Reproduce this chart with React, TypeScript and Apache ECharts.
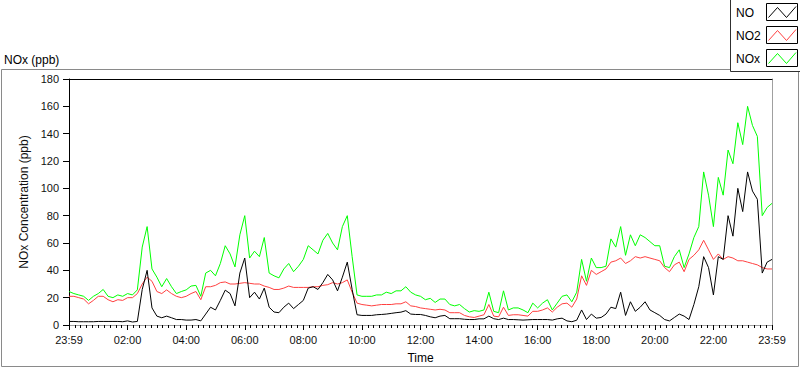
import React, { useEffect, useRef } from 'react';
import * as echarts from 'echarts';

// sampling step of the series (minutes from the 23:59 start)
const STEP_MINUTES = 10;

const xTickLabels = ['23:59', '02:00', '04:00', '06:00', '08:00', '10:00', '12:00', '14:00', '16:00', '18:00', '20:00', '22:00', '23:59'];

const seriesNames = ['NO', 'NO2', 'NOx'];

const noValues = [
  2.6, 2.6, 2.4, 2.4, 2.4, 2.4, 2.6, 2.6, 2.6, 2.6,
  2.6, 2.4, 3, 2.2, 2.6, 26, 40, 12.5, 6.5, 5.3,
  6.5, 5.3, 4, 4, 3.6, 3.6, 4, 3, 8, 13,
  11, 18, 25.5, 23, 14, 38, 49, 20, 24, 19,
  27, 13, 9.5, 9, 13, 16, 12, 15, 18, 27,
  28, 26, 31, 37, 33, 25, 35, 46, 26, 7.5,
  7, 7, 7, 7.5, 7.7, 8, 8.5, 9, 9.4, 10.5,
  8, 7.7, 7.7, 7, 6, 5.3, 6.5, 7, 4.6, 4.6,
  4.6, 4.2, 4, 4, 4.5, 4.5, 6.5, 4.6, 4, 5,
  4, 4, 3.8, 3.6, 3.8, 4, 4, 4, 4, 3.6,
  4.5, 5, 3, 2.4, 3.5, 11, 4, 8, 5, 5.5,
  8, 13, 12, 24, 7, 17, 10, 13, 17, 11,
  9, 7, 4, 3, 5.5, 8, 6.5, 4, 15, 28,
  50, 42, 22, 50, 48, 80, 65, 100, 83, 112,
  98, 92, 38, 46, 48,
];

const no2Values = [
  21, 21, 20, 19, 15.5, 18, 21, 21, 18.5, 17,
  18.5, 18, 20, 20, 23, 30, 35, 32, 24.5, 23,
  25.7, 23, 21, 20, 21, 23, 24.5, 18.5, 28, 28,
  29, 31, 31.5, 30, 30, 30.5, 31, 30.5, 30, 30,
  28.5, 27.5, 26, 26, 27, 28.5, 27.5, 27.5, 27.5, 27.5,
  28, 28, 29, 29.5, 31, 30, 31, 33, 24, 16,
  15, 14.5, 14, 14.5, 15, 15, 15, 15.5, 15.5, 17,
  14, 13.5, 12.5, 12, 11.5, 11, 11.5, 11, 9, 9,
  9, 7, 6, 5.5, 6.5, 7.5, 15, 6.5, 6, 13,
  7, 7.5, 7.5, 7, 6.5, 10, 10, 11, 12.5, 9.5,
  13, 15.5, 16, 13, 19, 36, 29, 40, 37, 39,
  41, 46, 47, 49, 45, 47, 50, 49, 50, 49,
  48, 47, 42, 39, 44, 46, 39, 48, 51, 55,
  62, 55, 48, 52, 48, 50, 49, 47, 47, 46,
  45, 44, 42, 41, 41,
];

const noxValues = [
  24.5, 23, 22, 21, 18, 21, 23, 26, 21, 20,
  22, 21, 23, 22, 25.7, 57, 72, 41, 35, 28,
  34, 28, 23, 24.5, 25.7, 28.5, 29, 21, 38, 40,
  36, 45, 58, 52, 42.5, 66, 80, 49, 54, 50,
  64, 38, 36, 34.5, 41, 45, 39, 43, 48, 58,
  55, 52, 62, 67, 60, 55, 72, 80, 50, 22,
  21, 21, 21, 22, 22, 24, 23, 25, 25, 28,
  24, 22, 21, 18.5, 19.5, 16.5, 19, 19, 15, 14,
  15, 12, 9.5, 10.5, 10, 11, 24, 10, 9, 25,
  11, 12.5, 12.5, 11, 9, 16, 12.5, 16, 18.5, 11,
  16, 21, 22, 17, 24, 48, 32, 49, 42, 42,
  43, 63, 57, 72, 51, 66, 58, 66, 64, 61,
  58, 58, 43, 42, 50, 55, 42, 52, 64, 72,
  112, 95, 72, 108, 95, 128, 118, 148, 132, 160,
  146, 138, 80, 86, 89,
];

const seriesColors = ['#000000', '#ff4040', '#00ff00'];

export default function App() {
  const ref = useRef<HTMLDivElement>(null);

  useEffect(() => {
    document.body.style.margin = '0';
    const chart = echarts.init(ref.current as HTMLDivElement, null, { renderer: 'svg' });
    const fontFamily = '"Liberation Sans", Arial, sans-serif';
    const toSeries = (vals: number[]) => vals.map((v, i) => [i * STEP_MINUTES, v]);
    const maxMinutes = (xTickLabels.length - 1) * 120;

    const legendGraphics: any[] = [
      {
        type: 'rect',
        shape: { x: 730.5, y: -0.5, width: 70, height: 72 },
        style: { fill: '#ffffff', stroke: '#303030', lineWidth: 1 },
        z: 10,
      },
    ];
    seriesNames.forEach((name, k) => {
      const top = 3.5 + k * 23;
      legendGraphics.push({
        type: 'text',
        style: {
          text: name,
          x: 736,
          y: top + 9,
          fill: '#000',
          font: `12px ${fontFamily}`,
          verticalAlign: 'middle',
          align: 'left',
        },
        z: 11,
      });
      legendGraphics.push({
        type: 'rect',
        shape: { x: 766.5, y: top, width: 31, height: 17 },
        style: { fill: '#ffffff', stroke: '#000000', lineWidth: 1 },
        z: 11,
      });
      legendGraphics.push({
        type: 'polyline',
        shape: {
          points: [
            [768.5, top + 14],
            [777.5, top + 4],
            [786.5, top + 14],
            [796, top + 3],
          ],
        },
        style: { stroke: seriesColors[k], fill: null, lineWidth: 1 },
        z: 12,
      });
    });

    const option: any = {
      animation: false,
      backgroundColor: '#ffffff',
      textStyle: { fontFamily },
      grid: { left: 69, right: 28, top: 79, bottom: 40, containLabel: false },
      graphic: [
        {
          type: 'rect',
          shape: { x: 1.5, y: 69.5, width: 797, height: 297 },
          style: { fill: null, stroke: '#8a8a8a', lineWidth: 1 },
          z: 1,
        },
        {
          type: 'text',
          style: {
            text: 'NOx (ppb)',
            x: 4,
            y: 60,
            fill: '#000',
            font: `12px ${fontFamily}`,
            verticalAlign: 'middle',
            align: 'left',
          },
        },
        ...legendGraphics,
      ],
      xAxis: [
        {
          type: 'value',
          position: 'bottom',
          min: 0,
          max: maxMinutes,
          interval: 120,
          name: 'Time',
          nameLocation: 'middle',
          nameGap: 27,
          nameTextStyle: { color: '#000', fontSize: 12, fontFamily },
          axisLine: { show: true, onZero: false, lineStyle: { color: '#a0a0a0', width: 1 } },
          axisTick: { show: true, length: 5, lineStyle: { color: '#000', width: 1 } },
          minorTick: { show: true, splitNumber: 10, length: 3, lineStyle: { color: '#000', width: 1 } },
          splitLine: { show: false },
          minorSplitLine: { show: false },
          axisLabel: {
            show: true,
            margin: 9,
            fontSize: 11,
            color: '#111',
            fontFamily,
            showMinLabel: true,
            showMaxLabel: true,
            formatter: (v: number) => xTickLabels[Math.round(v / 120)] ?? '',
          },
        },
        {
          type: 'value',
          position: 'top',
          min: 0,
          max: maxMinutes,
          interval: 120,
          axisLine: { show: true, onZero: false, lineStyle: { color: '#000', width: 1 } },
          axisTick: { show: false },
          axisLabel: { show: false },
          splitLine: { show: false },
        },
      ],
      yAxis: [
        {
          type: 'value',
          position: 'left',
          min: 0,
          max: 180,
          interval: 20,
          name: 'NOx Concentration (ppb)',
          nameLocation: 'middle',
          nameGap: 30,
          nameTextStyle: { color: '#111', fontSize: 12, fontFamily },
          axisLine: { show: true, onZero: false, lineStyle: { color: '#000', width: 1 } },
          axisTick: { show: true, length: 6, lineStyle: { color: '#000', width: 1 } },
          splitLine: { show: false },
          axisLabel: { margin: 10, fontSize: 11, color: '#111', fontFamily },
        },
        {
          type: 'value',
          position: 'right',
          min: 0,
          max: 180,
          interval: 20,
          axisLine: { show: true, onZero: false, lineStyle: { color: '#a0a0a0', width: 1 } },
          axisTick: { show: false },
          axisLabel: { show: false },
          splitLine: { show: false },
        },
      ],
      series: [
        {
          name: seriesNames[2],
          type: 'line',
          xAxisIndex: 0,
          yAxisIndex: 0,
          data: toSeries(noxValues),
          showSymbol: false,
          symbol: 'none',
          lineStyle: { color: seriesColors[2], width: 1 },
          itemStyle: { color: seriesColors[2] },
        },
        {
          name: seriesNames[1],
          type: 'line',
          xAxisIndex: 0,
          yAxisIndex: 0,
          data: toSeries(no2Values),
          showSymbol: false,
          symbol: 'none',
          lineStyle: { color: seriesColors[1], width: 1 },
          itemStyle: { color: seriesColors[1] },
        },
        {
          name: seriesNames[0],
          type: 'line',
          xAxisIndex: 0,
          yAxisIndex: 0,
          data: toSeries(noValues),
          showSymbol: false,
          symbol: 'none',
          lineStyle: { color: seriesColors[0], width: 1 },
          itemStyle: { color: seriesColors[0] },
        },
      ],
    };

    chart.setOption(option);
    return () => chart.dispose();
  }, []);

  return <div ref={ref} style={{ width: 800, height: 369 }} />;
}
